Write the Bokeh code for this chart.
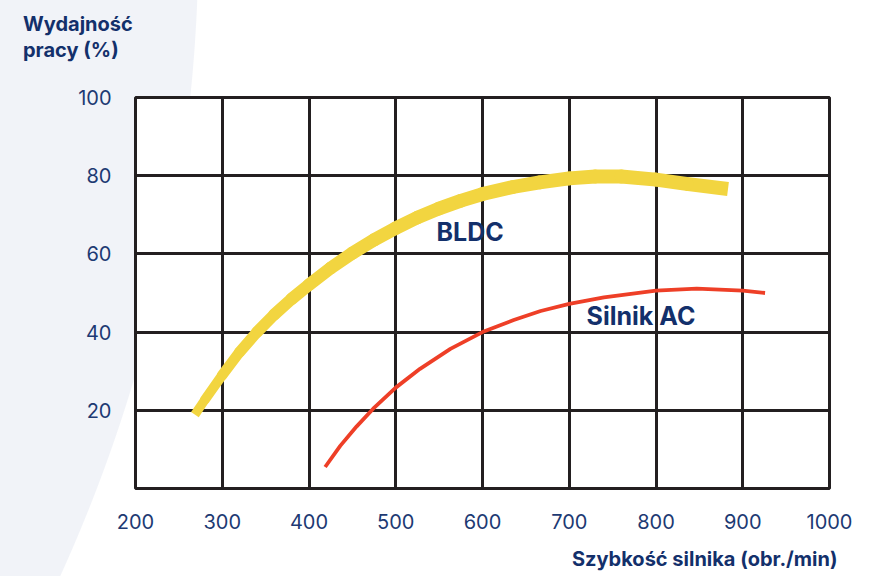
import math
from bokeh.plotting import figure
from bokeh.models import Range1d, FixedTicker, Label, Title
from bokeh.embed import file_html
from bokeh.resources import INLINE

# ---- data ----
bldc_speed = [268.5, 280, 300, 320, 340, 360, 380, 400, 425, 450, 475, 500, 525, 550,
              575, 600, 635, 666, 700, 730, 760, 800, 835, 883]
bldc_eff = [18.9, 22.7, 29.0, 34.9, 40.0, 44.5, 48.5, 52.1, 56.4, 60.2, 63.6, 66.6, 69.3, 71.6,
            73.6, 75.3, 77.1, 78.3, 79.3, 79.8, 79.8, 79.0, 77.9, 76.6]

ac_speed = [418.6, 436, 455, 474, 500, 528, 563, 600, 636, 667, 700, 740, 800, 847, 900, 925.7]
ac_eff = [5.5, 10.9, 15.9, 20.4, 25.8, 30.6, 35.7, 40.0, 43.1, 45.4, 47.2, 48.9, 50.6, 51.1, 50.6, 50.0]

x_ticks = [200, 300, 400, 500, 600, 700, 800, 900, 1000]
y_ticks = [20, 40, 60, 80, 100]
x_grid = [300, 400, 500, 600, 700, 800, 900]
y_grid = [20, 40, 60, 80]

y_title = ["Wydajność", "pracy (%)"]
x_title = "Szybkość silnika (obr./min)"
series_labels = ["BLDC", "Silnik AC"]

NAVY = "#13306b"
TICK = "#1d3a73"
GRID = "#231f20"
YELLOW = "#f2d540"
RED = "#ee3f27"
BG = "#f1f3f8"
FONT = "Inter"

W, H = 870, 576
bg_css = ("radial-gradient(circle 1542px at -1343px -62px, %s 1541px, #ffffff 1542px)" % BG)
p = figure(width=W, height=H, output_backend="svg", toolbar_location=None,
           x_range=Range1d(200, 1000), y_range=Range1d(0, 100),
           min_border_left=135, min_border_right=41, min_border_top=97, min_border_bottom=88,
           styles={"background": bg_css})
p.border_fill_color = None
p.background_fill_color = "white"
p.outline_line_color = GRID
p.outline_line_width = 3

# grid
p.xgrid.ticker = FixedTicker(ticks=x_grid)
p.ygrid.ticker = FixedTicker(ticks=y_grid)
for g in (p.xgrid, p.ygrid):
    g.grid_line_color = GRID
    g.grid_line_width = 3
    g.grid_line_alpha = 1.0

# axes
p.xaxis.ticker = FixedTicker(ticks=x_ticks)
p.yaxis.ticker = FixedTicker(ticks=y_ticks)
for ax in (p.xaxis, p.yaxis):
    ax.axis_line_color = None
    ax.major_tick_line_color = None
    ax.minor_tick_line_color = None
    ax.major_label_text_font = FONT
    ax.major_label_text_font_size = "20px"
    ax.major_label_text_color = TICK
p.xaxis.major_label_standoff = 19
p.yaxis.major_label_standoff = 18

# BLDC curve: a band that gets wider toward the right, as in the reference
def band_width(x):
    return 14 - 5 * math.exp(-(x - bldc_speed[0]) / 110)

x0s, y0s, x1s, y1s, ws = [], [], [], [], []
for i in range(len(bldc_speed) - 1):
    x0s.append(bldc_speed[i]); y0s.append(bldc_eff[i])
    x1s.append(bldc_speed[i + 1]); y1s.append(bldc_eff[i + 1])
    ws.append(band_width(0.5 * (bldc_speed[i] + bldc_speed[i + 1])))
n = len(ws)
p.segment(x0=[x0s[0], x0s[-1]], y0=[y0s[0], y0s[-1]], x1=[x1s[0], x1s[-1]], y1=[y1s[0], y1s[-1]],
          line_width=[ws[0], ws[-1]], line_color=YELLOW, line_cap="butt")
p.segment(x0=x0s[1:n - 1], y0=y0s[1:n - 1], x1=x1s[1:n - 1], y1=y1s[1:n - 1],
          line_width=ws[1:n - 1], line_color=YELLOW, line_cap="round")

# AC curve
p.line(ac_speed, ac_eff, line_color=RED, line_width=3.8, line_cap="butt", line_join="round")

# series labels
p.add_layout(Label(x=547, y=65.6, text=series_labels[0], text_font=FONT, text_font_style="bold",
                   text_font_size="25px", text_color=NAVY, text_baseline="middle", text_align="left"))
p.add_layout(Label(x=720, y=44.1, text=series_labels[1], text_font=FONT, text_font_style="bold",
                   text_font_size="25px", text_color=NAVY, text_baseline="middle", text_align="left"))

# axis titles as plot titles (outside the frame); small background-coloured spacers set their distance
def make_title(text, size, align, offset, standoff, **kw):
    return Title(text=text, align=align, offset=offset, standoff=standoff, text_font=FONT,
                 text_font_style="bold", text_font_size=size, text_color=NAVY, **kw)

def spacer(standoff):
    return Title(text=".", text_font_size="6px", standoff=standoff, text_color=BG,
                 align="left", offset=-130)

p.add_layout(spacer(28), "above")
p.add_layout(make_title("\n".join(y_title), "20px", "left", -112.5, 0,
                        text_line_height=1.10, vertical_align="top"), "above")

p.add_layout(spacer(7), "below")
p.add_layout(make_title(x_title, "20px", "right", -8, 0, vertical_align="bottom"), "below")

open("out.html", "w").write(file_html(p, INLINE))
